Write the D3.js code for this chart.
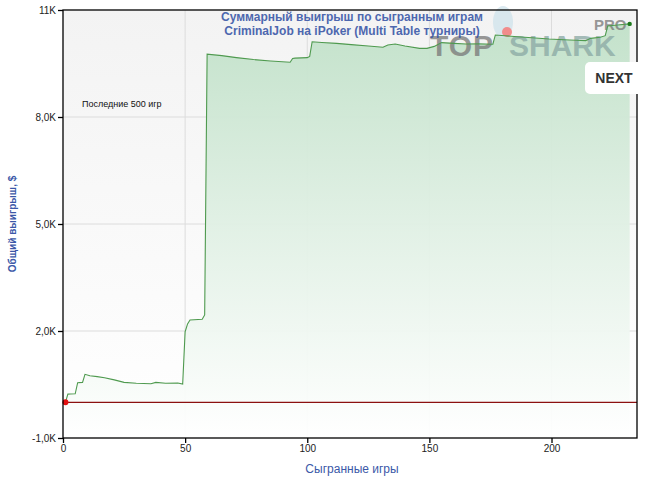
<!DOCTYPE html>
<html><head><meta charset="utf-8">
<script src="https://cdn.jsdelivr.net/npm/d3@7"></script>
<style>
body{margin:0;background:#fff;}
svg{display:block;font-family:"Liberation Sans",Arial,sans-serif;}
</style></head>
<body><svg id="c" width="645" height="482"></svg>
<script>
const games = [1,2,3,5,6,8,9,11,14,17,21,25,30,36,38,42,47,49,50,51,52,57,58,59,65,71,78,85,93,94,95,100,101,102,106,112,118,125,131,133,136,140,146,149,152,155,160,165,170,176,177,181,186,192,199,205,210,214,216,220,222,223,227,232];
const winnings = [0,230,235,240,550,560,785,745,720,690,630,560,535,520,560,535,540,510,1980,2200,2310,2330,2450,9760,9720,9665,9610,9570,9535,9640,9650,9665,9700,10110,10090,10065,10030,9990,9955,10020,10045,9990,9925,9925,9980,10085,10065,10045,10050,10040,10300,10280,10250,10220,10185,10165,10150,10140,10205,10235,10280,10550,10580,10610];
const yTicks = [-1000, 2000, 5000, 8000, 11000];
const yTickLabels = ["-1,0K", "2,0K", "5,0K", "8,0K", "11K"];
const xTicks = [0, 50, 100, 150, 200];
const titleLines = ["Суммарный выигрыш по сыгранным играм", "CriminalJob на iPoker (Multi Table турниры)"];

const data = games.map((g, i) => ({g, v: winnings[i]}));
const L = 63, R = 637, T = 10, B = 438;
const svg = d3.select("#c");
const x = d3.scaleLinear().domain([0, 235]).range([L, R]);
const y = d3.scaleLinear().domain([-1000, 11000]).range([B, T]);

const defs = svg.append("defs");
const bg = defs.append("linearGradient").attr("id","bg").attr("gradientUnits","userSpaceOnUse")
  .attr("x1",0).attr("y1",T).attr("x2",0).attr("y2",B);
bg.append("stop").attr("offset","0%").attr("stop-color","#f3f3f3");
bg.append("stop").attr("offset","100%").attr("stop-color","#ffffff");
const ag = defs.append("linearGradient").attr("id","ag").attr("gradientUnits","userSpaceOnUse")
  .attr("x1",0).attr("y1",T).attr("x2",0).attr("y2",B);
ag.append("stop").attr("offset","0%").attr("stop-color","#bfe0c7");
ag.append("stop").attr("offset","50%").attr("stop-color","#e0f0e4");
ag.append("stop").attr("offset","100%").attr("stop-color","#ffffff");

svg.append("rect").attr("x",L).attr("y",T).attr("width",R-L).attr("height",B-T).attr("fill","url(#bg)");

// grid
svg.append("g").selectAll("line").data(yTicks.filter(d => d > -1000 && d < 11000)).join("line")
  .attr("x1",L).attr("x2",R).attr("y1",d=>y(d)).attr("y2",d=>y(d)).attr("stroke","#dcdcdc").attr("stroke-width",1);
svg.append("g").selectAll("line").data(xTicks.filter(d => d > 0)).join("line")
  .attr("y1",T).attr("y2",B).attr("x1",d=>x(d)).attr("x2",d=>x(d)).attr("stroke","#dcdcdc").attr("stroke-width",1);

// area
svg.append("path").datum(data)
  .attr("d", d3.area().x(d=>x(d.g)).y0(B).y1(d=>y(d.v)))
  .attr("fill","url(#ag)").attr("opacity",0.95);

// logo watermark
const logo = svg.append("g").attr("opacity",0.75);
logo.append("ellipse").attr("cx",503).attr("cy",22).attr("rx",10).attr("ry",16).attr("fill","#cfe3ec");
logo.append("circle").attr("cx",507).attr("cy",32).attr("r",5).attr("fill","#f06a6a");
logo.append("text").attr("x",430).attr("y",56).attr("font-size",30).attr("font-weight","bold")
  .attr("fill","#777").attr("letter-spacing",1).text("TOP");
logo.append("text").attr("x",509).attr("y",56).attr("font-size",30).attr("font-weight","bold")
  .attr("fill","#8aa8a4").attr("letter-spacing",0).text("SHARK");
logo.append("text").attr("x",594).attr("y",30).attr("font-size",15).attr("font-weight","bold")
  .attr("fill","#777").text("PRO");

// line
svg.append("path").datum(data)
  .attr("d", d3.line().x(d=>x(d.g)).y(d=>y(d.v)))
  .attr("fill","none").attr("stroke","#4f9a4f").attr("stroke-width",1.1);

// zero line
svg.append("line").attr("x1",L).attr("x2",R).attr("y1",y(0)).attr("y2",y(0))
  .attr("stroke","#8b1010").attr("stroke-width",1.2);

// end points
svg.append("circle").attr("cx",x(data[0].g)).attr("cy",y(data[0].v)).attr("r",3).attr("fill","#e31010");
const last = data[data.length-1];
svg.append("circle").attr("cx",x(last.g)).attr("cy",y(last.v)).attr("r",2.2).attr("fill","#1d7a1d");

// frame
svg.append("rect").attr("x",L).attr("y",T).attr("width",R-L).attr("height",B-T)
  .attr("fill","none").attr("stroke","#000").attr("stroke-width",1.3);

// axes
const yAxis = d3.axisLeft(y).tickValues(yTicks).tickSize(5).tickPadding(2)
  .tickFormat((d,i) => yTickLabels[yTicks.indexOf(d)]);
const gy = svg.append("g").attr("transform",`translate(${L},0)`).call(yAxis);
gy.select(".domain").remove();
gy.selectAll("line").attr("stroke","#000").attr("stroke-width",1.3);
gy.selectAll("text").attr("font-size",10).attr("fill","#222").attr("font-family","Liberation Sans, Arial, sans-serif");

const xAxis = d3.axisBottom(x).tickValues(xTicks).tickSize(5).tickPadding(2).tickFormat(d3.format("d"));
const gx = svg.append("g").attr("transform",`translate(0,${B})`).call(xAxis);
gx.select(".domain").remove();
gx.selectAll("line").attr("stroke","#000").attr("stroke-width",1.3);
gx.selectAll("text").attr("font-size",10).attr("fill","#222").attr("font-family","Liberation Sans, Arial, sans-serif");

// titles
const blue = "#3b58a8";
svg.append("text").attr("x",352).attr("y",21).attr("text-anchor","middle").attr("font-size",12)
  .attr("font-weight","bold").attr("fill",blue).attr("opacity",0.9).text(titleLines[0]);
svg.append("text").attr("x",352).attr("y",35).attr("text-anchor","middle").attr("font-size",12)
  .attr("font-weight","bold").attr("fill",blue).attr("opacity",0.9).text(titleLines[1]);
svg.append("text").attr("transform","translate(16,224) rotate(-90)").attr("text-anchor","middle")
  .attr("font-size",10).attr("font-weight","bold").attr("fill",blue).text("Общий выигрыш, $");
svg.append("text").attr("x",352).attr("y",473).attr("text-anchor","middle").attr("font-size",12)
  .attr("fill",blue).text("Сыгранные игры");
svg.append("text").attr("x",82).attr("y",107).attr("font-size",9).attr("fill","#111").text("Последние 500 игр");

// NEXT button
svg.append("rect").attr("x",585).attr("y",62).attr("width",62).attr("height",32).attr("rx",5).attr("fill","#fff");
svg.append("text").attr("x",614).attr("y",83).attr("text-anchor","middle").attr("font-size",14)
  .attr("font-weight","bold").attr("fill","#333").text("NEXT");
</script></body></html>
